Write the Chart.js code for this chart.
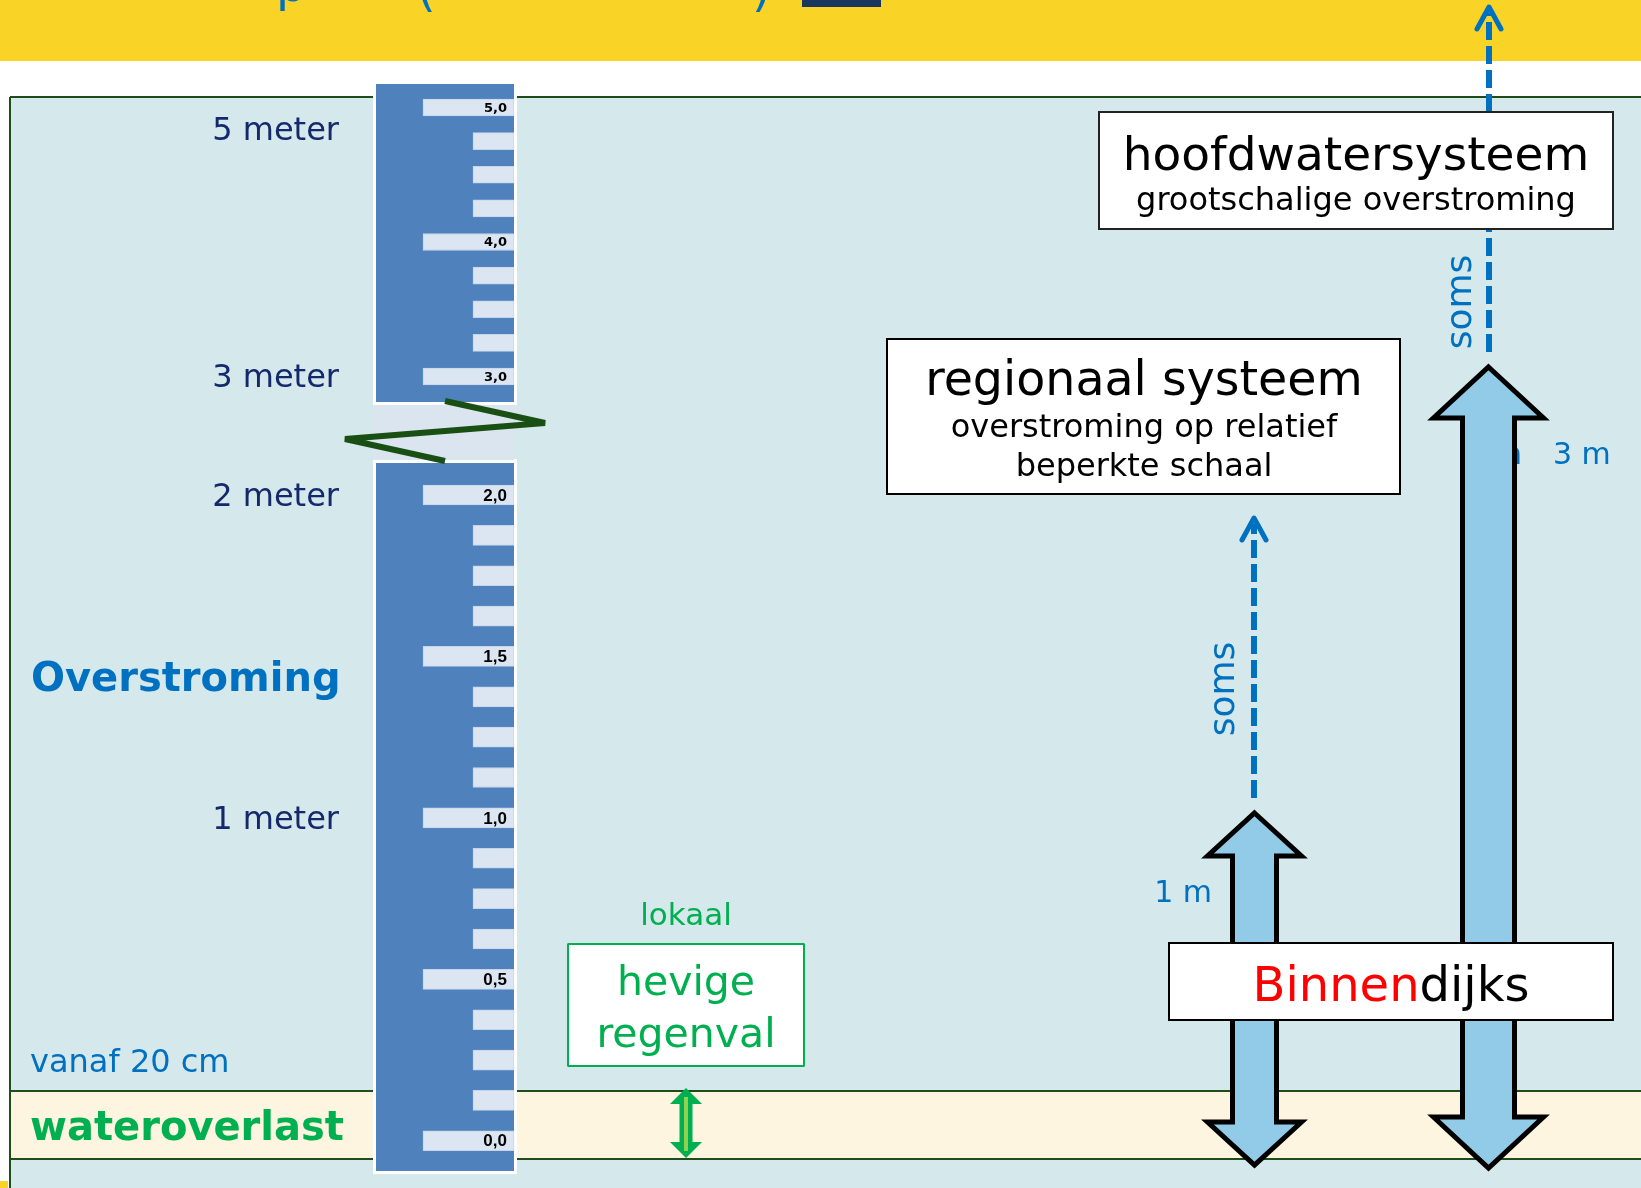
<!DOCTYPE html>
<html>
<head>
<meta charset="utf-8">
<script src="https://cdn.jsdelivr.net/npm/chart.js@4.4.1/dist/chart.umd.min.js"></script>
<style>
  html, body { margin: 0; padding: 0; background: #fff; }
  #wrap { width: 1641px; height: 1188px; }
</style>
</head>
<body>
<div id="wrap"><canvas id="myChart" width="1641" height="1188"></canvas></div>
<script>
//ruler below the break, one mark every 0,125 m
var lowerTicks = [0, 0.125, 0.25, 0.375, 0.5, 0.625, 0.75, 0.875, 1, 1.125, 1.25, 1.375, 1.5, 1.625, 1.75, 1.875, 2];
var lowerMajor = [0, 0.5, 1, 1.5, 2];
var lowerLabels = ["0,0", "0,5", "1,0", "1,5", "2,0"];

//ruler above the break, one mark every 0,25 m
var upperTicks = [3, 3.25, 3.5, 3.75, 4, 4.25, 4.5, 4.75, 5];
var upperMajor = [3, 4, 5];
var upperLabels = ["3,0", "4,0", "5,0"];

//labels left of the ruler
var meterValues = [1, 2, 3, 5];
var meterLabels = ["1 meter", "2 meter", "3 meter", "5 meter"];

//size of the page
var W = 1641, H = 1188;

//ruler geometry
var RULER_L = 376, RULER_R = 514;
var MAJOR_L = 423, MINOR_L = 473;

var FONT = '"DejaVu Sans", Verdana, sans-serif';
var BLUE = "#0070c0";
var GREEN = "#00b050";
var LINE_GREEN = "#1f4d1a";

Chart.defaults.font.family = FONT;

//turn a list of tick values into floating bars
function tickBars(ticks, major) {
    return ticks.map(function (v) {
        return { y: v, x: [major.indexOf(v) >= 0 ? MAJOR_L : MINOR_L, RULER_R] };
    });
}

function txt(ctx, s, x, y, font, color, align) {
    ctx.font = font;
    ctx.fillStyle = color;
    ctx.textAlign = align || "left";
    ctx.textBaseline = "alphabetic";
    ctx.fillText(s, x, y);
}

function box(ctx, x, y, w, h, stroke) {
    ctx.fillStyle = "#fff";
    ctx.fillRect(x, y, w, h);
    ctx.lineWidth = 2;
    ctx.strokeStyle = stroke;
    ctx.strokeRect(x, y, w, h);
}

//big light blue arrow with a head on both ends
function blockArrow(ctx, cx, top, bottom, shaftHalf, headHalf, headLen) {
    ctx.beginPath();
    ctx.moveTo(cx, top);
    ctx.lineTo(cx + headHalf, top + headLen);
    ctx.lineTo(cx + shaftHalf, top + headLen);
    ctx.lineTo(cx + shaftHalf, bottom - headLen);
    ctx.lineTo(cx + headHalf, bottom - headLen);
    ctx.lineTo(cx, bottom);
    ctx.lineTo(cx - headHalf, bottom - headLen);
    ctx.lineTo(cx - shaftHalf, bottom - headLen);
    ctx.lineTo(cx - shaftHalf, top + headLen);
    ctx.lineTo(cx - headHalf, top + headLen);
    ctx.closePath();
    ctx.fillStyle = "#92cbe7";
    ctx.fill();
    ctx.lineWidth = 5;
    ctx.lineJoin = "miter";
    ctx.strokeStyle = "#000";
    ctx.stroke();
}

//dashed blue line ending in an open arrow head
function dashedArrow(ctx, x, from, to) {
    ctx.save();
    ctx.strokeStyle = BLUE;
    ctx.lineWidth = 6;
    ctx.setLineDash([18, 6]);
    ctx.beginPath();
    ctx.moveTo(x, from);
    ctx.lineTo(x, to + 6);
    ctx.stroke();
    ctx.setLineDash([]);
    ctx.lineWidth = 5;
    ctx.lineCap = "round";
    ctx.lineJoin = "round";
    ctx.beginPath();
    ctx.moveTo(x - 12, to + 22);
    ctx.lineTo(x, to);
    ctx.lineTo(x + 12, to + 22);
    ctx.stroke();
    ctx.restore();
}

function rotatedText(ctx, s, x, y, font, color) {
    ctx.save();
    ctx.translate(x, y);
    ctx.rotate(-Math.PI / 2);
    txt(ctx, s, 0, 0, font, color, "center");
    ctx.restore();
}

var background = {
    id: "background",
    beforeDraw: function (chart) {
        var ctx = chart.ctx;
        ctx.save();
        ctx.fillStyle = "#fff";
        ctx.fillRect(0, 0, W, H);

        //yellow title band with the cut off title
        ctx.fillStyle = "#f9d326";
        ctx.fillRect(0, 0, W, 61);
        txt(ctx, "p", 276, 1, "48px " + FONT, BLUE);
        txt(ctx, "(", 417, 6, "48px " + FONT, BLUE);
        txt(ctx, ")", 752, 6, "48px " + FONT, BLUE);
        ctx.fillStyle = "#17375e";
        ctx.fillRect(802, 0, 79, 7);

        //panel and the wateroverlast band
        ctx.fillStyle = "#d5e8eb";
        ctx.fillRect(10, 97, W - 10, H - 97);
        ctx.fillStyle = "#fdf5df";
        ctx.fillRect(10, 1091, W - 10, 68);
        ctx.strokeStyle = LINE_GREEN;
        ctx.lineWidth = 2;
        ctx.beginPath();
        ctx.moveTo(10, 97); ctx.lineTo(W, 97);
        ctx.moveTo(10, 97); ctx.lineTo(10, H);
        ctx.moveTo(10, 1091); ctx.lineTo(W, 1091);
        ctx.moveTo(10, 1159); ctx.lineTo(W, 1159);
        ctx.stroke();
        ctx.fillStyle = "#f9d326";
        ctx.fillRect(0, 1181, 8, 7);

        //body of the ruler
        ctx.fillStyle = "#fff";
        ctx.fillRect(373, 81, 144, 324);
        ctx.fillRect(373, 459, 144, 715);
        ctx.fillStyle = "#dbe5f0";
        ctx.fillRect(373, 405, 141, 55);
        ctx.fillStyle = "#4f81bd";
        ctx.fillRect(RULER_L, 84, RULER_R - RULER_L, 318);
        ctx.fillRect(RULER_L, 463, RULER_R - RULER_L, 708);
        ctx.restore();
    }
};

var overlay = {
    id: "overlay",
    afterDatasetsDraw: function (chart) {
        var ctx = chart.ctx;
        var yLow = chart.scales.yLow;
        var yHigh = chart.scales.yHigh;
        ctx.save();

        //break in the ruler
        ctx.strokeStyle = "#1a4f14";
        ctx.lineWidth = 6;
        ctx.lineJoin = "bevel";
        ctx.beginPath();
        ctx.moveTo(445, 401);
        ctx.lineTo(545, 423);
        ctx.lineTo(345, 439);
        ctx.lineTo(445, 461);
        ctx.stroke();

        //numbers on the ruler
        ctx.textAlign = "right";
        ctx.textBaseline = "middle";
        ctx.fillStyle = "#000";
        ctx.font = "bold 13px " + FONT;
        upperMajor.forEach(function (v, i) {
            ctx.fillText(upperLabels[i], 507, yHigh.getPixelForValue(v) + 1);
        });
        ctx.font = 'bold 17px "Liberation Sans Narrow", "Liberation Sans", sans-serif';
        lowerMajor.forEach(function (v, i) {
            ctx.fillText(lowerLabels[i], 507, yLow.getPixelForValue(v) + 1);
        });

        //meter labels
        meterValues.forEach(function (v, i) {
            var scale = v > 2.5 ? yHigh : yLow;
            var y = Math.max(scale.getPixelForValue(v) + 11, 140);
            txt(ctx, meterLabels[i], 339, y, "32px " + FONT, "#14296b", "right");
        });

        txt(ctx, "Overstroming", 31, 691, "bold 40px " + FONT, BLUE);
        txt(ctx, "vanaf 20 cm", 30, 1072, "32px " + FONT, BLUE);
        txt(ctx, "wateroverlast", 30, 1140, "bold 40px " + FONT, GREEN);

        //local heavy rain
        txt(ctx, "lokaal", 686, 925, "31px " + FONT, GREEN, "center");
        box(ctx, 568, 944, 236, 122, GREEN);
        txt(ctx, "hevige", 686, 995, "41px " + FONT, GREEN, "center");
        txt(ctx, "regenval", 686, 1047, "41px " + FONT, GREEN, "center");

        //small green double arrow
        ctx.beginPath();
        ctx.moveTo(686, 1088);
        ctx.lineTo(702, 1104);
        ctx.lineTo(692.5, 1104);
        ctx.lineTo(692.5, 1142);
        ctx.lineTo(702, 1142);
        ctx.lineTo(686, 1158);
        ctx.lineTo(670, 1142);
        ctx.lineTo(679.5, 1142);
        ctx.lineTo(679.5, 1104);
        ctx.lineTo(670, 1104);
        ctx.closePath();
        ctx.fillStyle = GREEN;
        ctx.fill();
        ctx.fillStyle = "#92d050";
        ctx.fillRect(684, 1097, 4, 54);

        //dashed arrows towards the larger systems
        dashedArrow(ctx, 1489, 352, 7);
        dashedArrow(ctx, 1254, 798, 518);
        rotatedText(ctx, "soms", 1471, 302, "36px " + FONT, BLUE);
        rotatedText(ctx, "soms", 1234, 689, "36px " + FONT, BLUE);

        //water depth labels
        txt(ctx, "1 m", 1212, 902, "30px " + FONT, BLUE, "right");
        txt(ctx, "in", 1522, 464, "30px " + FONT, BLUE, "right");
        txt(ctx, "3 m", 1553, 464, "30px " + FONT, BLUE, "left");

        blockArrow(ctx, 1254.5, 813, 1165, 22, 47, 43);
        blockArrow(ctx, 1488.5, 367, 1168, 26, 55, 51);

        //system boxes
        box(ctx, 1099, 112, 514, 117, "#222");
        txt(ctx, "hoofdwatersysteem", 1356, 170, "47px " + FONT, "#000", "center");
        txt(ctx, "grootschalige overstroming", 1356, 210, "32px " + FONT, "#000", "center");

        box(ctx, 887, 339, 513, 155, "#000");
        txt(ctx, "regionaal systeem", 1144, 395, "47.5px " + FONT, "#000", "center");
        txt(ctx, "overstroming op relatief", 1144, 437, "32px " + FONT, "#000", "center");
        txt(ctx, "beperkte schaal", 1144, 476, "32px " + FONT, "#000", "center");

        box(ctx, 1169, 943, 444, 77, "#000");
        ctx.font = "48px " + FONT;
        var w1 = ctx.measureText("Binnen").width;
        var w2 = ctx.measureText("dijks").width;
        var start = 1391 - (w1 + w2) / 2;
        txt(ctx, "Binnen", start, 1001, "48px " + FONT, "#ff0000");
        txt(ctx, "dijks", start + w1, 1001, "48px " + FONT, "#000");

        ctx.restore();
    }
};

var myChart = new Chart(document.getElementById("myChart"), {
    type: "bar",
    data: {
        datasets: [
            {
                label: "onder",
                data: tickBars(lowerTicks, lowerMajor),
                yAxisID: "yLow",
                xAxisID: "x",
                backgroundColor: "#dce6f2",
                borderColor: "#c4d5ea",
                borderWidth: 1,
                borderSkipped: false,
                barThickness: 20,
                grouped: false
            },
            {
                label: "boven",
                data: tickBars(upperTicks, upperMajor),
                yAxisID: "yHigh",
                xAxisID: "x",
                backgroundColor: "#dce6f2",
                borderColor: "#c4d5ea",
                borderWidth: 1,
                borderSkipped: false,
                barThickness: 17,
                grouped: false
            }
        ]
    },
    options: {
        indexAxis: "y",
        responsive: false,
        animation: false,
        events: [],
        layout: { padding: 0 },
        plugins: {
            legend: { display: false },
            tooltip: { enabled: false }
        },
        scales: {
            x: { type: "linear", axis: "x", display: false, offset: false, min: 0, max: W },
            yLow: { type: "linear", axis: "y", display: false, offset: false, min: -0.1462, max: 3.533 },
            yHigh: { type: "linear", axis: "y", display: false, offset: false, min: -3.0335, max: 5.799 }
        }
    },
    plugins: [background, overlay]
});
</script>
</body>
</html>
